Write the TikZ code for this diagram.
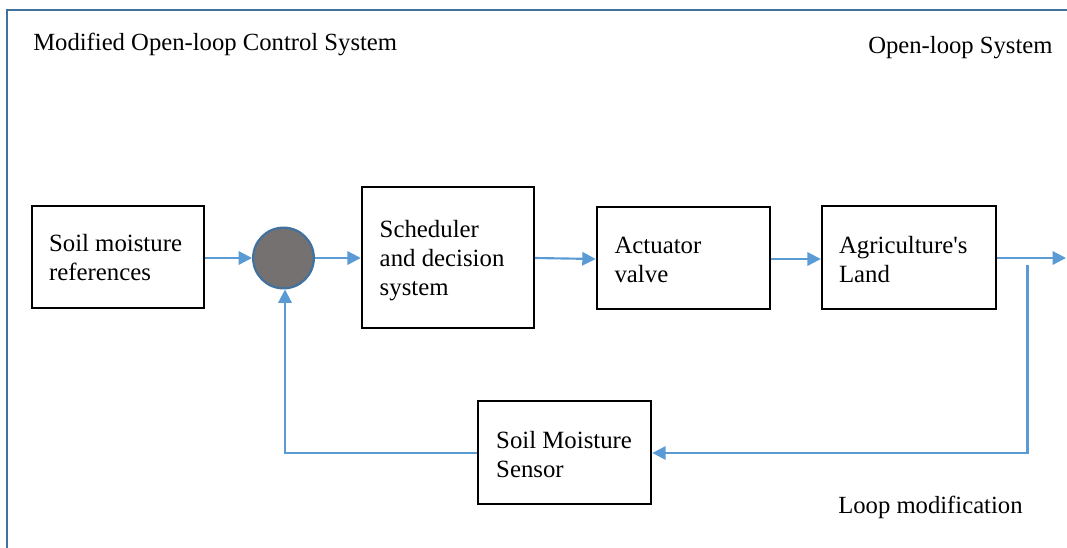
\documentclass[tikz,border=0pt]{standalone}
\usepackage{fontspec}
\setmainfont{Liberation Serif}
\newfontfamily\rawserif{Liberation Serif}
\usetikzlibrary{arrows.meta,calc}
\definecolor{framec}{RGB}{65,113,156}
\definecolor{arrowc}{RGB}{91,155,213}
\definecolor{sumfill}{RGB}{118,113,113}
\tikzset{
  blk/.style={draw=black, line width=1.8pt, fill=white, inner sep=0pt},
  txt/.style={inner sep=0pt, align=left, font=\rawserif\fontsize{18.6pt}{21.6pt}\selectfont},
  lbl/.style={inner sep=0pt, font=\rawserif\fontsize{18.5pt}{21.5pt}\selectfont},
  conn/.style={draw=arrowc, line width=1.6pt, -{Triangle[length=10pt,width=10pt]}},
  sumc/.style={circle, draw=framec, line width=1.7pt, fill=sumfill, minimum size=45.5pt, inner sep=0pt}
}
\begin{document}
\begin{tikzpicture}[x={(0.75pt,0)}, y={(0,-0.75pt)}]
\useasboundingbox (0,0) rectangle (1067,547);
% frame
\draw[framec, line width=2.2pt] (7,560) -- (7,10) -- (1080,10);
% titles
\node[lbl, anchor=base west] (t1) at (33,50) {Modified Open-loop Control System};
\node[lbl, anchor=base west] (t2) at (868,53) {Open-loop System};
\node[lbl, anchor=base west] (t3) at (838,513) {Loop modification};
% boxes
\node[blk, minimum width=129pt, minimum height=76.5pt] (ref) at (118,257) {};
\node[txt, anchor=west] (reft) at ([xshift=13.5pt,yshift=-0.5pt]ref.west) {Soil moisture\\references};
\node[sumc] (sum) at (283.5,258) {};
\node[blk, minimum width=129pt, minimum height=106pt] (sch) at (448,257.5) {};
\node[txt, anchor=west] (scht) at ([xshift=14pt,yshift=-2.5pt]sch.west) {Scheduler\\and decision\\system};
\node[blk, minimum width=130pt, minimum height=76.5pt] (act) at (683.5,258) {};
\node[txt, anchor=west] (actt) at ([xshift=14pt,yshift=-1.5pt]act.west) {Actuator\\valve};
\node[blk, minimum width=130.5pt, minimum height=77pt] (land) at (909,257.5) {};
\node[txt, anchor=west] (landt) at ([xshift=13.5pt,yshift=-1.5pt]land.west) {Agriculture's\\Land};
\node[blk, minimum width=130pt, minimum height=77pt] (sen) at (564.5,452.5) {};
\node[txt, anchor=west] (sent) at ([xshift=14.5pt,yshift=-1.5pt]sen.west) {Soil Moisture\\Sensor};
% coordinates
\coordinate (out) at (1066,258);
\coordinate (tap) at (1027.5,265);
\coordinate (tapb) at (1027.5,453);
\coordinate (fbc) at (285,453);
% connectors
\draw[conn] (ref.east |- 0,258) -- (sum.west);
\draw[conn] (sum.east) -- (sch.west |- sum.east);
\draw[conn] (sch.east |- 0,258) -- (act.west |- 0,259);
\draw[conn] (act.east |- 0,259) -- (land.west |- 0,259);
\draw[conn] (land.east |- out) -- (out);
\draw[conn] (tap) -- (tapb) -- (sen.east |- tapb);
\draw[conn] (sen.west |- fbc) -- (fbc) -- (sum.south -| fbc);
\end{tikzpicture}
\end{document}
